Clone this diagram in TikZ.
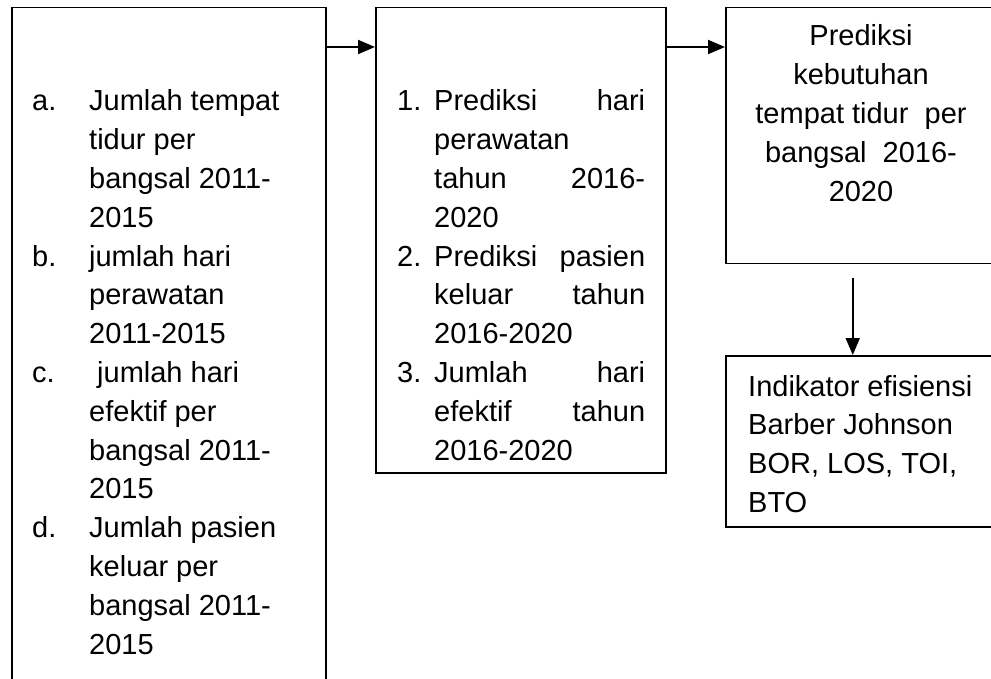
\documentclass[tikz,border=0pt]{standalone}
\usepackage{fontspec}
\setmainfont{Liberation Sans}
\usepackage{array}
\usetikzlibrary{arrows.meta, positioning}

\begin{document}
\begin{tikzpicture}[x=1pt, y=-1pt,
    box/.style={draw, line width=1.5pt, inner sep=0pt, anchor=north west},
    txt/.style={inner sep=0pt, font=\fontsize{29}{38.8}\selectfont},
    arr/.style={line width=2pt, -{Triangle[length=17pt,width=14pt]}}]
    \useasboundingbox (0,0) rectangle (991,679);
    \node[box, minimum width=314pt, minimum height=720pt] (data) at (11,7) {};
    \node[box, minimum width=290pt, minimum height=465pt] (pred) at (375,7) {};
    \node[box, minimum width=272pt, minimum height=256pt] (need) at (725,7) {};
    \node[box, minimum width=272pt, minimum height=171pt] (ind) at (725,355) {};
    \node[txt, anchor=base west] (data-txt) at (32,111) {\begin{tabular}[t]{@{}p{57pt}@{}l@{}}
        a. & Jumlah tempat\\ & tidur per\\ & bangsal 2011-\\ & 2015\\
        b. & jumlah hari\\ & perawatan\\ & 2011-2015\\
        c. & \hspace{8pt}jumlah hari\\ & efektif per\\ & bangsal 2011-\\ & 2015\\
        d. & Jumlah pasien\\ & keluar per\\ & bangsal 2011-\\ & 2015
    \end{tabular}};
    \node[txt, anchor=base west] (pred-txt) at (397,111) {\begin{tabular}[t]{@{}p{37pt}@{}p{211pt}@{}}
        1. & Prediksi\hfill hari\\ & perawatan\\ & tahun\hfill 2016-\\ & 2020\\
        2. & Prediksi\hfill pasien\\ & keluar\hfill tahun\\ & 2016-2020\\
        3. & Jumlah\hfill hari\\ & efektif\hfill tahun\\ & 2016-2020
    \end{tabular}};
    \node[txt, anchor=base] (need-txt) at (861,46) {\begin{tabular}[t]{@{}c@{}}
        Prediksi\\ kebutuhan\\ tempat tidur\ \ per\\ bangsal\ \ 2016-\\ 2020
    \end{tabular}};
    \node[txt, anchor=base west] (ind-txt) at (748,396) {\begin{tabular}[t]{@{}l@{}}
        Indikator efisiensi\\ Barber Johnson\\ BOR, LOS, TOI,\\ BTO
    \end{tabular}};
    \draw[arr] ([yshift=-40pt]data.north east) -- ([yshift=-40pt]pred.north west);
    \draw[arr] ([yshift=-40pt]pred.north east) -- ([yshift=-40pt]need.north west);
    \draw[arr] ([xshift=-9pt,yshift=-14pt]need.south) -- ([xshift=-9pt]ind.north);
\end{tikzpicture}
\end{document}
